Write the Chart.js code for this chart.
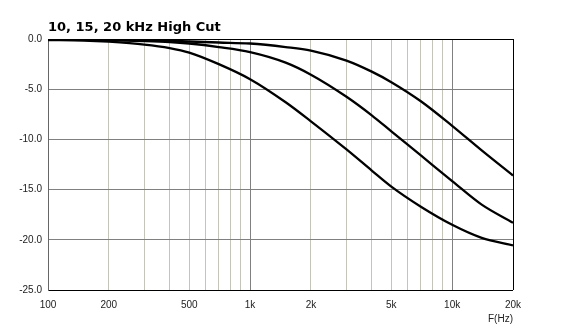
<!DOCTYPE html>
<html>
<head>
<meta charset="utf-8">
<title>10, 15, 20 kHz High Cut</title>
<script src="https://cdn.jsdelivr.net/npm/chart.js@4/dist/chart.umd.min.js"></script>
<style>
  html, body { margin: 0; padding: 0; background: #fff; }
  #wrap { width: 561px; height: 332px; }
</style>
</head>
<body>
<div id="wrap"><canvas id="chart" width="561" height="332"></canvas></div>
<script>
// frequency response of the three high-cut settings (dB)
const freqs = [100, 150, 200, 300, 400, 500, 700, 1000, 1500, 2000, 3000, 4000, 5000, 7000, 10000, 14000, 20000];
const cutLow = [-0.1, -0.15, -0.27, -0.55, -0.9, -1.35, -2.5, -4.0, -6.3, -8.2, -11.0, -13.1, -14.7, -16.7, -18.5, -19.8, -20.55];
const cutMid = [-0.05, -0.08, -0.12, -0.2, -0.3, -0.45, -0.8, -1.3, -2.35, -3.55, -5.75, -7.6, -9.2, -11.6, -14.15, -16.5, -18.3];
const cutHigh = [-0.03, -0.05, -0.07, -0.12, -0.18, -0.25, -0.35, -0.45, -0.8, -1.15, -2.15, -3.25, -4.3, -6.2, -8.65, -11.1, -13.6];

// grid positions on the frequency axis and the ones that carry a label
const gridFreqs = [100, 200, 300, 400, 500, 600, 700, 800, 900, 1000, 2000, 3000, 4000, 5000, 6000, 7000, 8000, 9000, 10000, 20000];
const freqLabels = { 100: '100', 200: '200', 500: '500', 1000: '1k', 2000: '2k', 5000: '5k', 10000: '10k', 20000: '20k' };

const toPoints = ys => freqs.map((f, i) => ({ x: f, y: ys[i] }));

const curve = ys => ({
  data: toPoints(ys),
  borderColor: '#000',
  borderWidth: 2.3,
  pointRadius: 0,
  fill: false,
  cubicInterpolationMode: 'monotone'
});

const tickFont = { family: 'Liberation Sans, Arial, sans-serif', size: 10 };

new Chart(document.getElementById('chart'), {
  type: 'line',
  data: {
    datasets: [curve(cutLow), curve(cutMid), curve(cutHigh)]
  },
  options: {
    responsive: false,
    animation: false,
    devicePixelRatio: 1,
    layout: { padding: { left: 0, right: 48, top: 0, bottom: 0 } },
    plugins: {
      legend: { display: false },
      tooltip: { enabled: false },
      title: {
        display: true,
        text: '10, 15, 20 kHz High Cut',
        align: 'start',
        fullSize: false,
        color: '#000',
        font: { family: 'DejaVu Sans, sans-serif', size: 13, weight: 'bold' },
        padding: { top: 20, bottom: 3.4 }
      }
    },
    scales: {
      x: {
        type: 'logarithmic',
        min: 100,
        max: 20000,
        afterBuildTicks: scale => {
          scale.ticks = gridFreqs.map(v => ({ value: v }));
        },
        afterFit: scale => { scale.height = 42; },
        ticks: {
          autoSkip: false,
          maxRotation: 0,
          padding: 9,
          color: '#222',
          font: tickFont,
          callback: v => freqLabels[v] || ''
        },
        grid: {
          drawTicks: false,
          color: ctx => {
            const v = ctx.tick && ctx.tick.value;
            if (v === 20000) return '#000';
            if (v === 100) return '#666';
            if (v === 1000 || v === 10000) return '#808080';
            return '#c4c4b8';
          }
        },
        border: { display: false },
        title: {
          display: true,
          text: 'F(Hz)',
          align: 'end',
          color: '#222',
          font: tickFont,
          padding: { top: 0, bottom: 7 }
        }
      },
      y: {
        min: -25,
        max: 0,
        afterFit: scale => { scale.width = 48; },
        ticks: {
          stepSize: 5,
          padding: 6,
          color: '#222',
          font: tickFont,
          callback: v => v.toFixed(1)
        },
        grid: {
          drawTicks: false,
          color: ctx => {
            const v = ctx.tick && ctx.tick.value;
            if (v === 0 || v === -25) return '#000';
            return '#808080';
          }
        },
        border: { display: true, color: '#666' }
      }
    }
  }
});
</script>
</body>
</html>
